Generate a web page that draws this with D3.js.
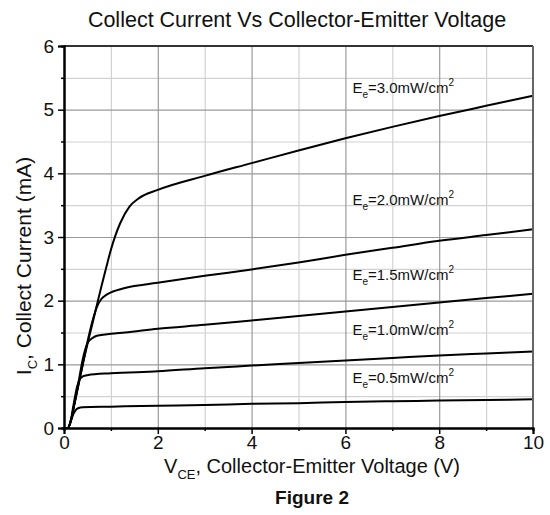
<!DOCTYPE html>
<html>
<head>
<meta charset="utf-8">
<script src="https://cdn.jsdelivr.net/npm/d3@7"></script>
<style>
  body { margin: 0; background: #fff; }
  text { font-family: 'Liberation Sans', Arial, sans-serif; fill: #111; }
</style>
</head>
<body>
<svg id="chart" width="550" height="515"></svg>
<script>
// irradiance levels (mW/cm2), one curve each
const levels = ['3.0', '2.0', '1.5', '1.0', '0.5']

// collector-emitter voltage points (V) and collector current (mA)
const vce30 = [0, 0.08, 0.15, 0.2, 0.3, 0.4, 0.5, 0.6, 0.7, 0.8, 0.9, 1.0, 1.2, 1.4, 1.6, 2, 3, 4, 5, 6, 7, 8, 9, 10]
const ic30 = [0, 0, 0.12, 0.3, 0.65, 1.0, 1.32, 1.62, 1.93, 2.23, 2.52, 2.8, 3.22, 3.48, 3.61, 3.74, 3.96, 4.16, 4.36, 4.55, 4.73, 4.9, 5.06, 5.22]

const vce20 = [0, 0.08, 0.15, 0.2, 0.3, 0.4, 0.5, 0.6, 0.7, 0.8, 0.9, 1.0, 1.3, 2, 3, 4, 5, 6, 7, 8, 9, 10]
const ic20 = [0, 0, 0.12, 0.3, 0.65, 1.0, 1.35, 1.66, 1.9, 2.03, 2.09, 2.13, 2.2, 2.28, 2.39, 2.49, 2.6, 2.72, 2.83, 2.94, 3.03, 3.12]

const vce15 = [0, 0.08, 0.15, 0.2, 0.3, 0.4, 0.45, 0.5, 0.6, 0.7, 1.0, 1.3, 2, 3, 4, 5, 6, 7, 8, 9, 10]
const ic15 = [0, 0, 0.12, 0.3, 0.68, 1.08, 1.23, 1.33, 1.41, 1.45, 1.48, 1.5, 1.56, 1.62, 1.69, 1.76, 1.83, 1.9, 1.97, 2.04, 2.11]

const vce10 = [0, 0.08, 0.15, 0.2, 0.28, 0.33, 0.4, 0.5, 1, 2, 3, 4, 5, 6, 7, 8, 9, 10]
const ic10 = [0, 0, 0.14, 0.35, 0.65, 0.76, 0.81, 0.83, 0.86, 0.89, 0.94, 0.98, 1.02, 1.06, 1.1, 1.14, 1.17, 1.2]

const vce05 = [0, 0.08, 0.15, 0.2, 0.25, 0.3, 0.4, 1, 2, 3, 4, 5, 6, 7, 8, 9, 10]
const ic05 = [0, 0, 0.12, 0.22, 0.28, 0.31, 0.325, 0.335, 0.35, 0.36, 0.38, 0.39, 0.41, 0.42, 0.43, 0.44, 0.45]

// annotation anchor for each curve label (V, mA)
const labelV = [6.15, 6.15, 6.15, 6.15, 6.15]
const labelI = [5.26, 3.5, 2.32, 1.46, 0.71]

const xTicks = [0, 2, 4, 6, 8, 10]
const yTicks = [0, 1, 2, 3, 4, 5, 6]

const series = [
  { v: vce30, i: ic30 },
  { v: vce20, i: ic20 },
  { v: vce15, i: ic15 },
  { v: vce10, i: ic10 },
  { v: vce05, i: ic05 },
].map((s, k) => ({
  level: levels[k],
  points: s.v.map((d, j) => [d, s.i[j]]),
}))

const width = 550
const height = 515
const margin = { top: 46, right: 17, bottom: 87, left: 64 }

const svg = d3.select('#chart')

svg.append('rect')
  .attr('width', width)
  .attr('height', height)
  .attr('fill', '#fff')

const x = d3.scaleLinear([0, 10], [margin.left, width - margin.right])
const y = d3.scaleLinear([0, 6], [height - margin.bottom, margin.top])

// grid drawn as axes with full-length ticks: minor first, then majors
const plotW = x(10) - x(0)
const plotH = y(0) - y(6)

function gridAxis(axis, values, color, transform) {
  const g = svg.append('g')
    .attr('class', 'grid')
    .attr('transform', transform)
    .call(axis.tickValues(values).tickFormat(''))
  g.select('.domain').remove()
  g.selectAll('.tick line')
    .attr('stroke', color)
    .attr('stroke-width', 1.2)
}
gridAxis(d3.axisBottom(x).tickSize(-plotH), d3.range(1, 10, 2), '#d2d2d2', `translate(0,${y(0)})`)
gridAxis(d3.axisLeft(y).tickSize(-plotW), d3.range(0.5, 6, 1), '#d2d2d2', `translate(${x(0)},0)`)
gridAxis(d3.axisBottom(x).tickSize(-plotH), xTicks.slice(1, -1), '#9a9a9a', `translate(0,${y(0)})`)
gridAxis(d3.axisLeft(y).tickSize(-plotW), yTicks.slice(1, -1), '#9a9a9a', `translate(${x(0)},0)`)

// curves
const line = d3.line()
  .x(d => x(d[0]))
  .y(d => y(d[1]))
  .curve(d3.curveMonotoneX)

svg.append('g')
  .attr('id', 'curves')
  .selectAll('path')
  .data(series)
  .join('path')
  .attr('d', d => line(d.points))
  .attr('fill', 'none')
  .attr('stroke', '#000')
  .attr('stroke-width', 2)
  .attr('stroke-linejoin', 'round')

// frame: top and right in gray
svg.append('line')
  .attr('x1', x(0)).attr('x2', x(10))
  .attr('y1', y(6)).attr('y2', y(6))
  .attr('stroke', '#333').attr('stroke-width', 2)
svg.append('line')
  .attr('x1', x(10)).attr('x2', x(10))
  .attr('y1', y(0)).attr('y2', y(6))
  .attr('stroke', '#666').attr('stroke-width', 2)

// axes
const xAxis = svg.append('g')
  .attr('transform', `translate(0,${y(0)})`)
  .call(d3.axisBottom(x).tickValues(xTicks).tickSize(6).tickPadding(2).tickFormat(d3.format('d')))
const xMinor = svg.append('g')
  .attr('transform', `translate(0,${y(0)})`)
  .call(d3.axisBottom(x).tickValues(d3.range(1, 10, 2)).tickSize(3).tickFormat(''))
const yAxis = svg.append('g')
  .attr('transform', `translate(${x(0)},0)`)
  .call(d3.axisLeft(y).tickValues(yTicks).tickSize(6).tickPadding(4).tickFormat(d3.format('d')))
const yMinor = svg.append('g')
  .attr('transform', `translate(${x(0)},0)`)
  .call(d3.axisLeft(y).tickValues(d3.range(0.5, 6, 1)).tickSize(3).tickFormat(''))

for (const ax of [xAxis, xMinor, yAxis, yMinor]) {
  ax.select('.domain').attr('stroke', '#000').attr('stroke-width', 2)
  ax.selectAll('.tick line').attr('stroke', '#000').attr('stroke-width', 1.5)
  ax.selectAll('.tick text')
    .style('font-family', "'Liberation Sans', Arial, sans-serif")
    .style('font-size', '19px')
    .attr('fill', '#111')
}

// curve labels
const labels = svg.append('g')
  .attr('id', 'labels')
  .selectAll('text')
  .data(series)
  .join('text')
  .attr('x', (d, k) => x(labelV[k]))
  .attr('y', (d, k) => y(labelI[k]))
  .style('font-size', '15px')

labels.append('tspan').text('E')
labels.append('tspan').attr('dy', 5).style('font-size', '10px').text('e')
labels.append('tspan').attr('dy', -5).text(d => `=${d.level}mW/cm`)
labels.append('tspan').attr('dy', -7).style('font-size', '10px').text('2')

// title
svg.append('text')
  .attr('x', 297)
  .attr('y', 27)
  .attr('text-anchor', 'middle')
  .style('font-size', '21.5px')
  .text('Collect Current Vs Collector-Emitter Voltage')

// y axis title
const yTitle = svg.append('text')
  .attr('transform', 'translate(31,266) rotate(-90)')
  .attr('text-anchor', 'middle')
  .style('font-size', '21px')
yTitle.append('tspan').text('I')
yTitle.append('tspan').attr('dy', 6).style('font-size', '13px').text('C')
yTitle.append('tspan').attr('dy', -6).text(', Collect Current (mA)')

// x axis title
const xTitle = svg.append('text')
  .attr('x', 312)
  .attr('y', 473)
  .attr('text-anchor', 'middle')
  .style('font-size', '20px')
xTitle.append('tspan').text('V')
xTitle.append('tspan').attr('dy', 6).style('font-size', '13px').text('CE')
xTitle.append('tspan').attr('dy', -6).text(', Collector-Emitter Voltage (V)')

svg.append('text')
  .attr('x', 312)
  .attr('y', 504)
  .attr('text-anchor', 'middle')
  .style('font-size', '19px')
  .style('font-weight', 'bold')
  .text('Figure 2')
</script>
</body>
</html>
